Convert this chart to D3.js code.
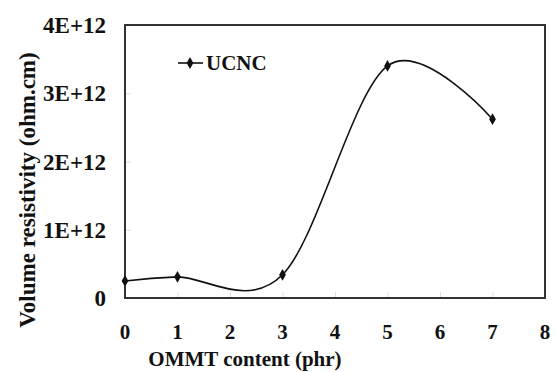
<!DOCTYPE html>
<html>
<head>
<meta charset="utf-8">
<script src="https://cdn.jsdelivr.net/npm/d3@7"></script>
<style>
  body { margin: 0; background: #fff; }
  text { font-family: "Liberation Serif", "Times New Roman", serif; font-weight: bold; fill: #111; }
</style>
</head>
<body>
<div id="chart"></div>
<script>
// data
const content = [0, 1, 3, 5, 7];
const resistivity = [0.25e12, 0.31e12, 0.34e12, 3.4e12, 2.62e12];
const xTicks = [0, 1, 2, 3, 4, 5, 6, 7, 8];
const yTicks = [0, 1e12, 2e12, 3e12, 4e12];
const yTickLabels = ["0", "1E+12", "2E+12", "3E+12", "4E+12"];
const seriesName = "UCNC";

const width = 556, height = 372;
const margin = { top: 25, right: 11, bottom: 74, left: 125 };

const svg = d3.select("#chart").append("svg")
    .attr("width", width)
    .attr("height", height);

const x = d3.scaleLinear().domain([0, 8]).range([margin.left, width - margin.right]);
const y = d3.scaleLinear().domain([0, 4e12]).range([height - margin.bottom, margin.top]);

// faint inside ticks
svg.append("g")
    .attr("transform", `translate(0,${y(0)})`)
    .call(d3.axisTop(x).tickValues(xTicks).tickSize(6).tickFormat(""))
    .call(g => g.select(".domain").remove())
    .selectAll("line").attr("stroke", "#ddd");

svg.append("g")
    .attr("transform", `translate(${x(0)},0)`)
    .call(d3.axisRight(y).tickValues(yTicks).tickSize(6).tickFormat(""))
    .call(g => g.select(".domain").remove())
    .selectAll("line").attr("stroke", "#ddd");

// tick labels
svg.append("g").selectAll("text")
    .data(xTicks)
    .enter().append("text")
    .attr("x", d => x(d))
    .attr("y", 339)
    .attr("text-anchor", "middle")
    .style("font-size", "21px")
    .text(d => d);

svg.append("g").selectAll("text")
    .data(yTicks)
    .enter().append("text")
    .attr("x", 106)
    .attr("y", d => y(d))
    .attr("dy", "0.35em")
    .attr("text-anchor", "end")
    .style("font-size", "23px")
    .text((d, i) => yTickLabels[i]);

// frame
svg.append("rect")
    .attr("x", x(0))
    .attr("y", y(4e12))
    .attr("width", x(8) - x(0))
    .attr("height", y(0) - y(4e12))
    .attr("fill", "none")
    .attr("stroke", "#333")
    .attr("stroke-width", 2);

// smoothed line
const pts = content.map((c, i) => [c, resistivity[i]]);
const line = d3.line()
    .x(d => x(d[0]))
    .y(d => y(d[1]))
    .curve(d3.curveCardinal.tension(0));

svg.append("path")
    .datum(pts)
    .attr("d", line)
    .attr("fill", "none")
    .attr("stroke", "#111")
    .attr("stroke-width", 1.6);

const diamond = d3.symbol().type(d3.symbolDiamond).size(40);

svg.append("g").selectAll("path")
    .data(pts)
    .enter().append("path")
    .attr("d", diamond)
    .attr("transform", d => `translate(${x(d[0])},${y(d[1])})`)
    .attr("fill", "#111");

// legend
const lg = svg.append("g").attr("transform", "translate(178,63)");
lg.append("line").attr("x1", 0).attr("x2", 25).attr("stroke", "#111").attr("stroke-width", 1.6);
lg.append("path").attr("d", diamond).attr("transform", "translate(12,0)").attr("fill", "#111");
lg.append("text").attr("x", 28).attr("dy", "0.35em").style("font-size", "21px").text(seriesName);

// axis titles
svg.append("text")
    .attr("x", 245)
    .attr("y", 366)
    .attr("text-anchor", "middle")
    .style("font-size", "21px")
    .text("OMMT content (phr)");

svg.append("text")
    .attr("transform", "translate(35,190) rotate(-90)")
    .attr("text-anchor", "middle")
    .style("font-size", "23px")
    .text("Volume resistivity (ohm.cm)");
</script>
</body>
</html>
